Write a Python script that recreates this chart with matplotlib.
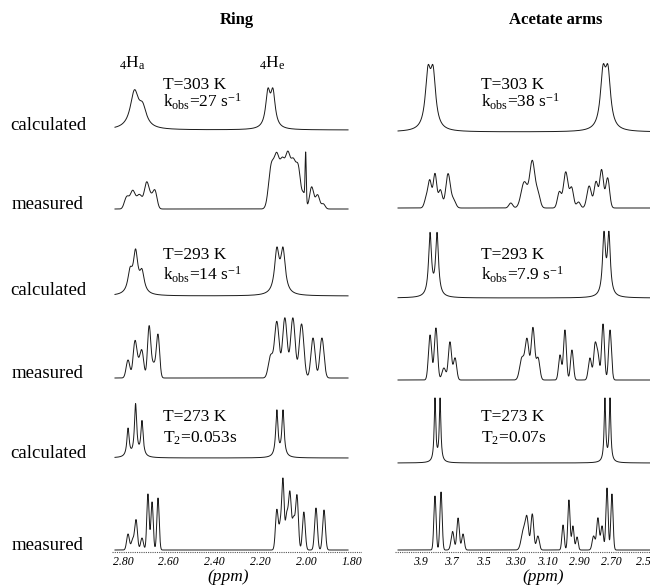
import numpy as np
import matplotlib.pyplot as plt

plt.rcParams['font.family'] = 'Liberation Serif'
plt.rcParams['mathtext.fontset'] = 'custom'
plt.rcParams['mathtext.rm'] = 'Liberation Serif'
plt.rcParams['mathtext.it'] = 'Liberation Serif:italic'

row_labels = ["calculated", "measured", "calculated", "measured", "calculated", "measured"]

# peak lists per row: (ppm, height, width)  calc rows = lorentzian, measured = gaussian
ring_peaks = [
    [(2.750, 36, 0.022), (2.714, 18, 0.020), (2.167, 34, 0.012), (2.145, 34, 0.012)],
    [(2.790, 6, 0.008), (2.780, 8, 0.008), (2.758, 18, 0.011), (2.728, 14, 0.012),
     (2.697, 25, 0.010), (2.678, 10, 0.010), (2.660, 17, 0.009),
     (2.152, 42, 0.012), (2.128, 47, 0.011), (2.104, 43, 0.011), (2.080, 50, 0.011),
     (2.056, 43, 0.011), (2.034, 38, 0.010), (2.010, 14, 0.008), (2.002, 48, 0.0025),
     (1.976, 22, 0.009), (1.950, 14, 0.009), (1.925, 5, 0.008)],
    [(2.769, 20, 0.012), (2.745, 40, 0.012), (2.717, 20, 0.012), (2.128, 42, 0.012), (2.101, 42, 0.012)],
    [(2.778, 18, 0.008), (2.748, 34, 0.008), (2.732, 12, 0.010), (2.717, 24, 0.008),
     (2.686, 50, 0.007), (2.667, 14, 0.010), (2.647, 42, 0.007),
     (2.155, 22, 0.010), (2.128, 56, 0.010), (2.093, 60, 0.010), (2.058, 60, 0.010),
     (2.020, 54, 0.010), (1.970, 40, 0.009), (1.931, 40, 0.009)],
    [(2.778, 28, 0.006), (2.745, 52, 0.006), (2.717, 35, 0.006), (2.128, 46, 0.006), (2.101, 46, 0.006)],
    [(2.778, 16, 0.006), (2.758, 10, 0.006), (2.743, 30, 0.006), (2.717, 12, 0.006),
     (2.691, 56, 0.005), (2.673, 48, 0.005), (2.647, 52, 0.005),
     (2.128, 40, 0.006), (2.112, 26, 0.006), (2.101, 66, 0.005), (2.085, 34, 0.006),
     (2.071, 56, 0.006), (2.055, 30, 0.006), (2.040, 54, 0.006), (2.010, 38, 0.006),
     (1.957, 42, 0.006), (1.922, 40, 0.006)],
]

acetate_peaks = [
    [(3.850, 52, 0.020), (3.818, 52, 0.020), (2.751, 52, 0.020), (2.720, 52, 0.020)],
    [(3.860, 10, 0.012), (3.838, 26, 0.011), (3.806, 34, 0.011), (3.772, 18, 0.012), (3.724, 34, 0.014),
     (3.690, 8, 0.014),
     (3.330, 5, 0.012), (3.245, 26, 0.020), (3.195, 46, 0.016), (3.160, 14, 0.014),
     (3.025, 16, 0.012), (2.985, 36, 0.014), (2.948, 20, 0.012), (2.905, 6, 0.012),
     (2.838, 22, 0.014), (2.795, 26, 0.012), (2.760, 38, 0.012), (2.722, 30, 0.012)],
    [(3.837, 62, 0.011), (3.793, 62, 0.011), (2.745, 60, 0.011), (2.714, 60, 0.011)],
    [(3.837, 45, 0.010), (3.800, 52, 0.010), (3.750, 12, 0.012), (3.712, 38, 0.010), (3.680, 22, 0.010),
     (3.260, 22, 0.014), (3.228, 40, 0.012), (3.191, 52, 0.011), (3.159, 22, 0.011),
     (3.021, 25, 0.009), (2.990, 50, 0.009), (2.946, 30, 0.009),
     (2.833, 22, 0.010), (2.801, 34, 0.009), (2.783, 24, 0.009), (2.751, 56, 0.009), (2.707, 50, 0.009)],
    [(3.806, 63, 0.006), (3.774, 63, 0.006), (2.739, 63, 0.006), (2.707, 63, 0.006)],
    [(3.806, 54, 0.007), (3.768, 58, 0.007), (3.700, 8, 0.009), (3.693, 12, 0.008),
     (3.661, 32, 0.008), (3.630, 16, 0.008),
     (3.250, 20, 0.014), (3.228, 28, 0.010), (3.195, 36, 0.009), (3.160, 14, 0.009),
     (3.002, 25, 0.007), (2.965, 50, 0.007), (2.940, 24, 0.007), (2.914, 13, 0.007),
     (2.810, 14, 0.009), (2.783, 32, 0.008), (2.757, 24, 0.008), (2.726, 62, 0.007), (2.695, 56, 0.007)],
]

ring_notes = [("T=303 K", r"k$_\mathrm{obs}$=27 s$^\mathrm{-1}$"),
              ("T=293 K", r"k$_\mathrm{obs}$=14 s$^\mathrm{-1}$"),
              ("T=273 K", r"T$_\mathrm{2}$=0.053s")]
acetate_notes = [("T=303 K", r"k$_\mathrm{obs}$=38 s$^\mathrm{-1}$"),
                 ("T=293 K", r"k$_\mathrm{obs}$=7.9 s$^\mathrm{-1}$"),
                 ("T=273 K", r"T$_\mathrm{2}$=0.07s")]

ring_ticks = [2.80, 2.60, 2.40, 2.20, 2.00, 1.80]
ring_ticklabels = ["2.80", "2.60", "2.40", "2.20", "2.00", "1.80"]
acetate_ticks = [3.9, 3.7, 3.5, 3.3, 3.1, 2.9, 2.7, 2.5]
acetate_ticklabels = ["3.9", "3.7", "3.5", "3.30", "3.10", "2.90", "2.70", "2.5"]


def lorentz(x, peaks):
    y = np.zeros_like(x)
    for c, a, w in peaks:
        y += a * w**2 / ((x - c)**2 + w**2)
    return y


def gauss(x, peaks):
    y = np.zeros_like(x)
    for c, a, w in peaks:
        y += a * np.exp(-(x - c)**2 / (2 * w**2))
    return y


W, H = 650, 586
fig = plt.figure(figsize=(6.5, 5.86), dpi=100)
top_px, bot_px = 30, 555

ax_l = fig.add_axes([112 / W, (H - bot_px) / H, 250 / W, (bot_px - top_px) / H])
ax_r = fig.add_axes([395 / W, (H - bot_px) / H, 255 / W, (bot_px - top_px) / H])
ax_l.set_xlim(2.848, 1.756)
ax_r.set_xlim(4.057, 2.456)

ring_offsets = [425, 346, 259, 177, 97, 5]
acetate_offsets = [423, 347, 257, 175, 92, 5]

lc = '#1a1a1a'
xl = np.linspace(2.835, 1.817, 3000)
xr = np.linspace(4.038, 2.456, 3000)
for i in range(6):
    shape = lorentz if i % 2 == 0 else gauss
    ax_l.plot(xl, ring_offsets[i] + shape(xl, ring_peaks[i]), color=lc, lw=0.7)
    ax_r.plot(xr, acetate_offsets[i] + shape(xr, acetate_peaks[i]), color=lc, lw=0.7)
    fig.text(48 / W, 1 - (bot_px - ring_offsets[i] - 5) / H, row_labels[i],
             ha='center', va='center', fontsize=13.5)

note_y = [(470, 453), (300, 280), (138, 117)]
for k in range(3):
    ax_l.text(2.625, note_y[k][0], ring_notes[k][0], fontsize=12.5, va='center', ha='left')
    ax_l.text(2.625, note_y[k][1], ring_notes[k][1], fontsize=12.5, va='center', ha='left')
    ax_r.text(3.52, note_y[k][0], acetate_notes[k][0], fontsize=12.5, va='center', ha='left')
    ax_r.text(3.52, note_y[k][1], acetate_notes[k][1], fontsize=12.5, va='center', ha='left')

ax_l.text(2.761, 492, r"$_\mathrm{4}$H$_\mathrm{a}$", fontsize=12.5, ha='center', va='center')
ax_l.text(2.149, 492, r"$_\mathrm{4}$H$_\mathrm{e}$", fontsize=12.5, ha='center', va='center')

for ax, ticks, labels in [(ax_l, ring_ticks, ring_ticklabels), (ax_r, acetate_ticks, acetate_ticklabels)]:
    ax.set_ylim(0, bot_px - top_px)
    ax.axhline(3, color='#555555', lw=0.8, ls=(0, (1, 1)))
    ax.set_xticks(ticks)
    ax.set_xticklabels(labels, fontstyle='italic', fontsize=8.5)
    ax.tick_params(axis='x', length=0, pad=1)
    ax.set_yticks([])
    for s in ax.spines.values():
        s.set_visible(False)
    ax.patch.set_visible(False)

fig.text(228 / W, 1 - 577 / H, "(ppm)", fontstyle='italic', fontsize=12.5, ha='center', va='center')
fig.text(543 / W, 1 - 577 / H, "(ppm)", fontstyle='italic', fontsize=12.5, ha='center', va='center')
fig.text(237 / W, 1 - 20 / H, "Ring", fontweight='bold', fontsize=12, ha='center', va='center')
fig.text(556 / W, 1 - 20 / H, "Acetate arms", fontweight='bold', fontsize=12, ha='center', va='center')

fig.savefig("out.png", dpi=100)
